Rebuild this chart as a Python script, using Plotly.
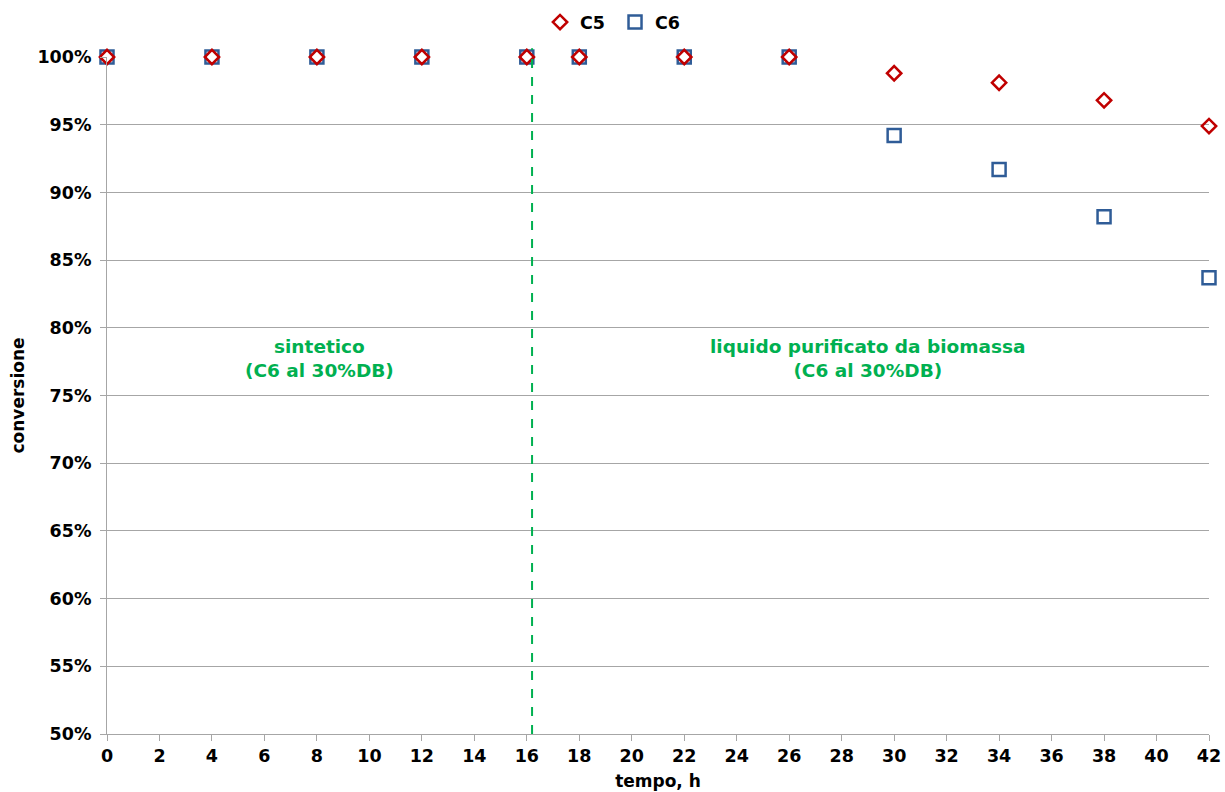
import plotly.graph_objects as go

# Sampling times (h) and conversion values (fraction)
tempo = [0, 4, 8, 12, 16, 18, 22, 26, 30, 34, 38, 42]
conv_c5 = [1.0, 1.0, 1.0, 1.0, 1.0, 1.0, 1.0, 1.0, 0.988, 0.981, 0.968, 0.949]
conv_c6 = [1.0, 1.0, 1.0, 1.0, 1.0, 1.0, 1.0, 1.0, 0.942, 0.917, 0.882, 0.837]

# Feed switch time and region labels
switch_time = 16.2
region_labels = [
    (8.1, "sintetico<br>(C6 al 30%DB)"),
    (29.0, "liquido purificato da biomassa<br>(C6 al 30%DB)"),
]

x_ticks = list(range(0, 43, 2))
y_ticks = [0.50 + 0.05 * i for i in range(11)]

font_family = "DejaVu Sans, Verdana, sans-serif"
green = "#00B050"

fig = go.Figure()
fig.add_trace(go.Scatter(
    x=tempo, y=conv_c6, mode="markers", name="C6",
    marker=dict(symbol="square-open", size=13, color="#2F5C97", line=dict(width=2.5)),
    cliponaxis=False,
))
fig.add_trace(go.Scatter(
    x=tempo, y=conv_c5, mode="markers", name="C5",
    marker=dict(symbol="diamond-open", size=11, color="#C00000", line=dict(width=2.5)),
    cliponaxis=False,
))

fig.add_shape(
    type="line", xref="x", yref="paper",
    x0=switch_time, x1=switch_time, y0=0, y1=1.013,
    line=dict(color=green, width=2, dash="dash"),
)

for xc, txt in region_labels:
    fig.add_annotation(
        x=xc, y=0.777, xref="x", yref="y", text=txt, showarrow=False,
        font=dict(family=font_family, size=18.5, color=green, weight="bold"),
        align="center",
    )

fig.update_layout(
    width=1225, height=792,
    margin=dict(l=107, r=16, t=57, b=58, autoexpand=False),
    paper_bgcolor="white", plot_bgcolor="white",
    font=dict(family=font_family, size=17.5, color="black", weight="bold"),
    legend=dict(
        orientation="h", x=0.461, xanchor="center",
        yref="container", y=0.972, yanchor="middle",
        font=dict(size=17.5, weight="bold"), traceorder="reversed",
        itemwidth=30, entrywidth=30, entrywidthmode="pixels",
        bgcolor="rgba(0,0,0,0)",
    ),
    showlegend=True,
)

fig.update_xaxes(
    range=[0, 42], tickvals=x_ticks, ticktext=[str(v) for v in x_ticks],
    showgrid=False, showline=True, linecolor="#A6A6A6", linewidth=1,
    ticks="outside", ticklen=6, tickcolor="#A6A6A6",
    zeroline=False, automargin=False,
    title=dict(text="tempo, h", font=dict(size=17, weight="bold"), standoff=10),
)
fig.update_yaxes(
    range=[0.5, 1.0], tickvals=y_ticks, tickformat=".0%",
    showgrid=True, gridcolor="#A6A6A6", gridwidth=1,
    showline=True, linecolor="#A6A6A6", linewidth=1,
    ticks="outside", ticklen=6, tickcolor="#A6A6A6", ticklabelstandoff=5,
    zeroline=False, automargin=False,
    title=dict(text="conversione", font=dict(size=17, weight="bold"), standoff=8),
)

fig.write_html("out.html")
